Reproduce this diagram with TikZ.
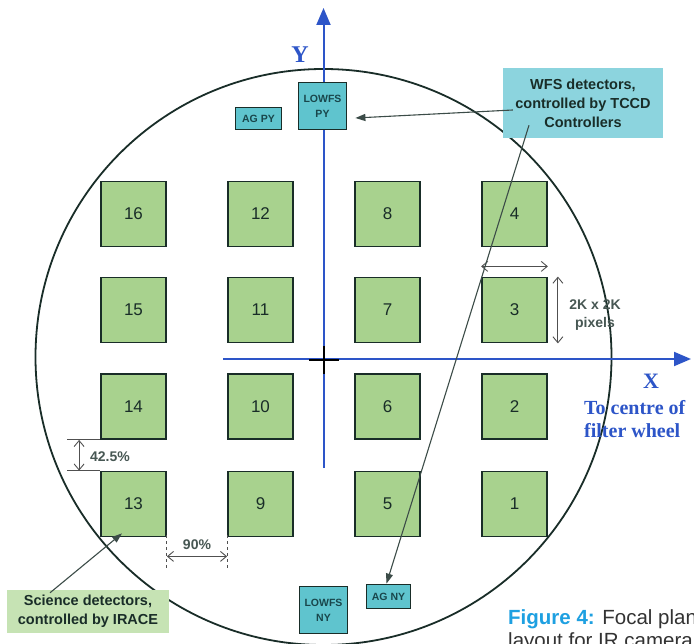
\documentclass[tikz,border=0pt]{standalone}
\usepackage{fontspec}
\setmainfont{Liberation Serif}
\setsansfont{Liberation Sans}
\usetikzlibrary{arrows.meta}
\definecolor{axisblue}{RGB}{45,85,200}
\definecolor{sqgreen}{RGB}{168,210,142}
\definecolor{cyanbox}{RGB}{95,196,206}
\definecolor{wfsfill}{RGB}{140,212,222}
\definecolor{scifill}{RGB}{198,227,180}
\definecolor{darkline}{RGB}{25,45,40}
\definecolor{tealtext}{RGB}{25,70,75}
\definecolor{capblue}{RGB}{30,160,225}
\definecolor{dimgray}{RGB}{80,80,80}
\tikzset{
  sq/.style={draw=darkline, line width=1.8pt, fill=sqgreen, minimum width=65pt, minimum height=65pt, inner sep=0pt,
    font=\sffamily\fontsize{17}{20}\selectfont, text=darkline},
  cbox/.style={draw=darkline, line width=1.8pt, fill=cyanbox, inner sep=0pt, align=center,
    font=\sffamily\bfseries\fontsize{10.5}{15}\selectfont, text=tealtext},
  callout/.style={inner sep=0pt, align=center, font=\sffamily\bfseries\fontsize{14.5}{19}\selectfont, text=darkline},
  axisline/.style={draw=axisblue, line width=2pt, -{Triangle[length=17pt,width=14pt]}},
  ptr/.style={draw=darkline!85!white, line width=1.1pt, -{Triangle[length=10pt,width=7pt]}},
  dimarrow/.style={draw=dimgray, line width=0.9pt, {Straight Barb[length=6pt,width=10pt]}-{Straight Barb[length=6pt,width=10pt]}},
  extline/.style={draw=dimgray, line width=0.9pt},
  dimtext/.style={inner sep=0pt, font=\sffamily\bfseries\fontsize{14}{17}\selectfont, text=darkline!80!white},
  axislabel/.style={inner sep=0pt, font=\rmfamily\bfseries, text=axisblue}
}
\begin{document}
\begin{tikzpicture}[x=1pt,y=-1pt]
\useasboundingbox (0,0) rectangle (694,644);
\clip (0,0) rectangle (694,644);
\fill[white] (0,0) rectangle (694,644);

% outer circle
\node[circle, draw=darkline, line width=1.8pt, minimum size=576pt, inner sep=0pt] (ring) at (323.5,357) {};

% axes
\coordinate (xo) at (223,359);
\coordinate (xe) at (691,359);
\coordinate (yo) at (323.5,468);
\coordinate (ye) at (323.5,8);
\draw[axisline] (xo) -- (xe);
\draw[axisline] (yo) -- (ye);

% centre cross
\coordinate (ctr) at (324,360);
\draw[black, line width=2pt] ([xshift=-15pt]ctr) -- ([xshift=15pt]ctr);
\draw[black, line width=2pt] ([yshift=-14pt]ctr) -- ([yshift=14pt]ctr);

% science detectors
\node[sq] (s16) at (133.5,214) {16};
\node[sq] (s15) at (133.5,310) {15};
\node[sq] (s14) at (133.5,406.5) {14};
\node[sq] (s13) at (133.5,504) {13};
\node[sq] (s12) at (260.5,214) {12};
\node[sq] (s11) at (260.5,310) {11};
\node[sq] (s10) at (260.5,406.5) {10};
\node[sq] (s9) at (260.5,504) {9};
\node[sq] (s8) at (387.5,214) {8};
\node[sq] (s7) at (387.5,310) {7};
\node[sq] (s6) at (387.5,406.5) {6};
\node[sq] (s5) at (387.5,504) {5};
\node[sq] (s4) at (514.5,214) {4};
\node[sq] (s3) at (514.5,310) {3};
\node[sq] (s2) at (514.5,406.5) {2};
\node[sq] (s1) at (514.5,504) {1};

% WFS / AG detectors
\node[cbox, minimum width=48pt, minimum height=47pt] (lpy) at (322.5,106) {LOWFS\\PY};
\node[cbox, minimum width=48pt, minimum height=47pt] (lny) at (323.5,610) {LOWFS\\NY};
\node[cbox, minimum width=46pt, minimum height=22pt] (agpy) at (258.5,118.5) {AG PY};
\node[cbox, minimum width=44pt, minimum height=24pt] (agny) at (388.5,596.5) {AG NY};

% callout boxes
\node[callout, fill=wfsfill, minimum width=160pt, minimum height=70pt] (wfs) at (583,103) {WFS detectors,\\controlled by TCCD\\Controllers};
\node[callout, fill=scifill, minimum width=162pt, minimum height=43pt] (sci) at (88,611.5) {Science detectors,\\controlled by IRACE};

% axis labels
\node[axislabel, font=\rmfamily\bfseries\fontsize{24}{28}\selectfont] (ylab) at (300,55) {Y};
\node[axislabel, font=\rmfamily\bfseries\fontsize{22}{26}\selectfont] (xlab) at (651,381) {X};
\node[axislabel, anchor=base west, font=\rmfamily\bfseries\fontsize{20}{24}\selectfont] (tc1) at (584,415) {To centre of};
\node[axislabel, anchor=base west, font=\rmfamily\bfseries\fontsize{20}{24}\selectfont] (tc2) at (584,438) {filter wheel};

% dimensions: detector size
\draw[dimarrow] ([yshift=-19pt]s4.south west) -- ([yshift=-19pt]s4.south east);
\draw[dimarrow] ([xshift=10pt]s3.north east) -- ([xshift=10pt]s3.south east);
\node[dimtext, align=center, font=\sffamily\bfseries\fontsize{14}{18}\selectfont] (pix) at (595,315) {2K x 2K\\pixels};

% dimension 42.5%
\draw[extline] ([xshift=-33pt]s14.south west) -- (s14.south west);
\draw[extline] ([xshift=-33pt]s13.north west) -- (s13.north west);
\draw[dimarrow] ([xshift=-21pt]s14.south west) -- ([xshift=-21pt]s13.north west);
\node[dimtext] (p425) at (110,457) {42.5\%};

% dimension 90%
\draw[extline, dashed] ([yshift=2pt]s13.south east) -- ([yshift=-33pt]s13.south east);
\draw[extline, dashed] ([yshift=2pt]s9.south west) -- ([yshift=-33pt]s9.south west);
\draw[dimarrow] ([yshift=-19pt]s13.south east) -- ([yshift=-19pt]s9.south west);
\node[dimtext] (p90) at (197,545) {90\%};

% pointers
\draw[ptr] ([xshift=10pt,yshift=-7pt]wfs.west) -- ([xshift=8pt,yshift=-12pt]lpy.east);
\draw[ptr] ([xshift=-54pt,yshift=13pt]wfs.south) -- ([xshift=-2pt]agny.north);
\draw[ptr] ([xshift=-38pt,yshift=-3pt]sci.north) -- ([xshift=-11.5pt,yshift=4pt]s13.south);

% caption (cropped at the picture edge, as in the reference)
\node[anchor=base west, inner sep=0pt, font=\sffamily\fontsize{20.5}{24}\selectfont, text=black!80] (cap1) at (508,624) {\textcolor{capblue}{\bfseries Figure 4:} Focal plane};
\node[anchor=base west, inner sep=0pt, font=\sffamily\fontsize{20.5}{24}\selectfont, text=black!80] (cap2) at (508,647) {layout for IR camera};
\end{tikzpicture}
\end{document}
